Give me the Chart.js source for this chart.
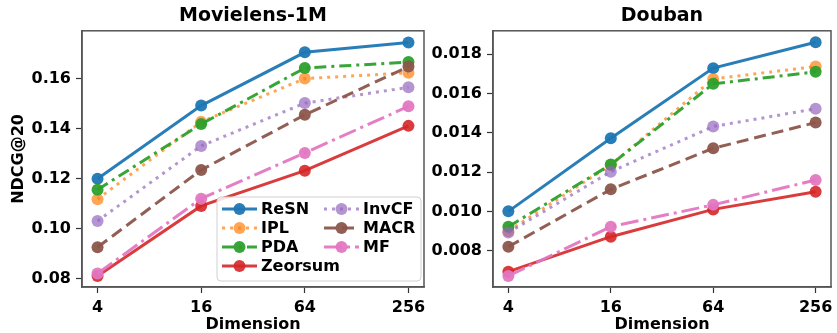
<!DOCTYPE html>
<html>
<head>
<meta charset="utf-8">
<script src="https://cdn.jsdelivr.net/npm/chart.js@4"></script>
<style>
    body { margin: 0; background: #fff; }
    #wrap { position: relative; width: 837px; height: 333px; }
    #left { position: absolute; left: 0; top: 0; }
    #right { position: absolute; left: 430px; top: 0; }
</style>
</head>
<body>
<div id="wrap">
    <canvas id="left" width="430" height="333"></canvas>
    <canvas id="right" width="407" height="333"></canvas>
</div>
<script>
const dims = ['4', '16', '64', '256'];
const methods = ['ReSN', 'IPL', 'PDA', 'Zeorsum', 'InvCF', 'MACR', 'MF'];

// Movielens-1M
const mlResn = [0.1201, 0.1493, 0.1706, 0.1745];
const mlIpl = [0.1119, 0.1428, 0.1601, 0.1624];
const mlPda = [0.1157, 0.1419, 0.1643, 0.1667];
const mlZeorsum = [0.0812, 0.1092, 0.1233, 0.1412];
const mlInvcf = [0.1032, 0.1332, 0.1503, 0.1566];
const mlMacr = [0.0927, 0.1236, 0.1456, 0.1649];
const mlMf = [0.0822, 0.1121, 0.1304, 0.1490];

// Douban
const dbResn = [0.0100, 0.01372, 0.01729, 0.01861];
const dbIpl = [0.0090, 0.01236, 0.01674, 0.01737];
const dbPda = [0.00922, 0.01238, 0.01649, 0.0171];
const dbZeorsum = [0.00693, 0.00871, 0.0101, 0.0110];
const dbInvcf = [0.00892, 0.01202, 0.01432, 0.01522];
const dbMacr = [0.0082, 0.01112, 0.01321, 0.01452];
const dbMf = [0.00671, 0.00922, 0.01033, 0.0116];

const mlTicks = [0.08, 0.10, 0.12, 0.14, 0.16];
const dbTicks = [0.008, 0.010, 0.012, 0.014, 0.016, 0.018];

// line looks per method
const styles = [
    { color: 'rgba(31,119,180,0.95)', dash: [] },
    { color: 'rgba(255,127,14,0.7)', dash: [3, 5] },
    { color: 'rgba(44,160,44,0.95)', dash: [12, 5, 3, 5] },
    { color: 'rgba(214,39,40,0.9)', dash: [] },
    { color: 'rgba(148,103,189,0.7)', dash: [3, 5] },
    { color: 'rgba(140,86,75,0.95)', dash: [12, 6] },
    { color: 'rgba(227,119,194,0.95)', dash: [18, 5, 3, 5] }
];

const FONT = 'DejaVu Sans';

function makeSets(series) {
    return series.map((vals, i) => ({
        label: methods[i],
        data: vals.map((v, k) => ({ x: k, y: v })),
        borderColor: styles[i].color,
        backgroundColor: styles[i].color,
        pointBackgroundColor: styles[i].color,
        pointBorderWidth: 0,
        pointRadius: 6,
        borderWidth: 3,
        borderDash: styles[i].dash,
        borderCapStyle: 'butt',
        order: -i
    }));
}

// box around the plot, like matplotlib spines
const frame = {
    id: 'frame',
    afterDraw(chart) {
        const { ctx, chartArea: a } = chart;
        ctx.save();
        ctx.strokeStyle = '#555';
        ctx.lineWidth = 1.5;
        ctx.strokeRect(a.left, a.top, a.right - a.left, a.bottom - a.top);
        ctx.restore();
    }
};

// legend drawn inside the plot, bottom right, two columns
const innerLegend = {
    id: 'innerLegend',
    afterDraw(chart) {
        const { ctx, chartArea: a } = chart;
        const bx = a.right - 207, by = a.bottom - 90, bw = 204, bh = 84;
        ctx.save();
        ctx.fillStyle = 'rgba(255,255,255,0.85)';
        ctx.strokeStyle = '#d0d0d0';
        ctx.lineWidth = 1;
        ctx.beginPath();
        ctx.roundRect(bx, by, bw, bh, 4);
        ctx.fill();
        ctx.stroke();
        ctx.font = 'bold 16px ' + FONT;
        ctx.textBaseline = 'middle';
        chart.data.datasets.forEach((ds, i) => {
            const col = i < 4 ? 0 : 1;
            const row = i < 4 ? i : i - 4;
            const x = bx + 5 + col * 102;
            const y = by + 12 + row * 19;
            ctx.strokeStyle = ds.borderColor;
            ctx.lineWidth = 3;
            ctx.setLineDash(ds.borderDash);
            ctx.beginPath();
            ctx.moveTo(x, y);
            ctx.lineTo(x + 35, y);
            ctx.stroke();
            ctx.setLineDash([]);
            ctx.fillStyle = ds.pointBackgroundColor;
            ctx.beginPath();
            ctx.arc(x + 17.5, y, 6, 0, Math.PI * 2);
            ctx.fill();
            ctx.fillStyle = '#000';
            ctx.fillText(ds.label, x + 39, y + 1);
        });
        ctx.restore();
    }
};

function makeChart(el, title, series, ticks, digits, yMin, yMax, yWidth, yTitle, padRight, plugins) {
    return new Chart(el, {
        type: 'line',
        data: { datasets: makeSets(series) },
        options: {
            responsive: false,
            animation: false,
            layout: { padding: { left: 0, right: padRight, top: 0, bottom: 0 } },
            plugins: {
                legend: { display: false },
                tooltip: { enabled: false },
                title: {
                    display: true,
                    text: title,
                    fullSize: false,
                    color: '#000',
                    font: { family: FONT, size: 19, weight: 'bold', lineHeight: 1.2 },
                    padding: { top: 5, bottom: 3 }
                }
            },
            scales: {
                x: {
                    type: 'linear',
                    min: -0.15,
                    max: 3.15,
                    afterBuildTicks(s) { s.ticks = dims.map((d, i) => ({ value: i })); },
                    afterFit(s) { s.height = 46; s.paddingLeft = 0; s.paddingRight = 0; },
                    ticks: {
                        color: '#000',
                        padding: 5,
                        maxRotation: 0,
                        font: { family: FONT, size: 16, weight: 'bold' },
                        callback: v => dims[v]
                    },
                    grid: { drawOnChartArea: false, tickLength: 6, color: '#333', tickWidth: 1.2 },
                    border: { color: '#555', width: 1.5 },
                    title: {
                        display: true,
                        text: 'Dimension',
                        color: '#000',
                        font: { family: FONT, size: 16, weight: 'bold', lineHeight: 1.0 },
                        padding: { top: 0, bottom: 0 }
                    }
                },
                y: {
                    min: yMin,
                    max: yMax,
                    afterBuildTicks(s) { s.ticks = ticks.map(v => ({ value: v })); },
                    afterFit(s) { s.width = yWidth; },
                    ticks: {
                        color: '#000',
                        padding: 5,
                        font: { family: FONT, size: 16, weight: 'bold' },
                        callback: v => v.toFixed(digits)
                    },
                    grid: { drawOnChartArea: false, tickLength: 6, color: '#333', tickWidth: 1.2 },
                    border: { color: '#555', width: 1.5 },
                    title: {
                        display: !!yTitle,
                        text: yTitle,
                        color: '#000',
                        font: { family: FONT, size: 16, weight: 'bold', lineHeight: 1.2 },
                        padding: { top: 9, bottom: 0 }
                    }
                }
            }
        },
        plugins: plugins
    });
}

makeChart(document.querySelector('#left'), 'Movielens-1M',
    [mlResn, mlIpl, mlPda, mlZeorsum, mlInvcf, mlMacr, mlMf],
    mlTicks, 2, 0.0768, 0.1792, 82, 'NDCG@20', 5, [frame, innerLegend]);

makeChart(document.querySelector('#right'), 'Douban',
    [dbResn, dbIpl, dbPda, dbZeorsum, dbInvcf, dbMacr, dbMf],
    dbTicks, 3, 0.00615, 0.01919, 63, '', 1, [frame]);
</script>
</body>
</html>
